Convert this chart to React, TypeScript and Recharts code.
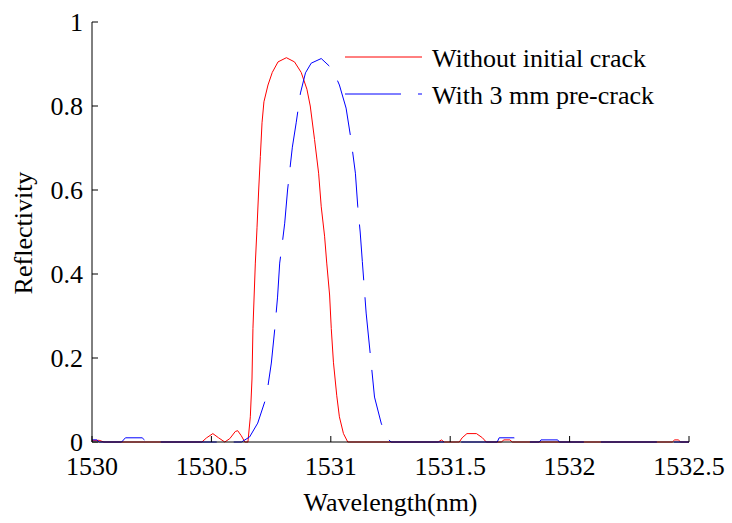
import { LineChart, Line, XAxis, YAxis, Legend } from 'recharts';

// reflection spectra
const redWavelength = [
  1530.0, 1530.03, 1530.05, 1530.46, 1530.48, 1530.506, 1530.53, 1530.556, 1530.577, 1530.6, 1530.61,
  1530.625, 1530.64, 1530.653, 1530.663, 1530.67, 1530.674, 1530.684, 1530.691, 1530.698, 1530.705,
  1530.712, 1530.72, 1530.737, 1530.755, 1530.779, 1530.814, 1530.848, 1530.876, 1530.9, 1530.914,
  1530.932, 1530.949, 1530.96, 1530.974, 1530.983, 1530.995, 1531.002, 1531.011, 1531.025, 1531.036,
  1531.053, 1531.071, 1531.45, 1531.463, 1531.475, 1531.538, 1531.55, 1531.57, 1531.61, 1531.635,
  1531.651, 1531.714, 1531.725, 1531.75, 1531.76, 1532.43, 1532.44, 1532.455, 1532.465, 1532.5,
];
const redReflectivity = [
  0.004, 0.004, 0, 0, 0.01, 0.02, 0.01, 0, 0.008, 0.025, 0.027,
  0.015, 0, 0, 0.06, 0.15, 0.27, 0.426, 0.51, 0.6, 0.68,
  0.76, 0.81, 0.85, 0.88, 0.905, 0.915, 0.905, 0.88, 0.84, 0.8,
  0.72, 0.64, 0.56, 0.49, 0.426, 0.35, 0.27, 0.19, 0.11, 0.06,
  0.02, 0, 0, 0.005, 0, 0, 0.01, 0.02, 0.02, 0.01,
  0, 0, 0.005, 0.005, 0, 0, 0.005, 0.005, 0, 0,
];

const blueWavelength = [
  1530.0, 1530.02, 1530.03, 1530.124, 1530.14, 1530.21, 1530.229, 1530.626, 1530.66, 1530.694,
  1530.73, 1530.751, 1530.765, 1530.777, 1530.786, 1530.797, 1530.807, 1530.819, 1530.839, 1530.855,
  1530.873, 1530.894, 1530.918, 1530.96, 1531.007, 1531.036, 1531.064, 1531.085, 1531.103, 1531.113,
  1531.123, 1531.132, 1531.148, 1531.169, 1531.183, 1531.211, 1531.232, 1531.252, 1531.697, 1531.705,
  1531.768, 1531.789, 1531.873, 1531.88, 1531.95, 1531.957, 1532.5,
];
const blueReflectivity = [
  0.005, 0.005, 0, 0, 0.01, 0.01, 0, 0, 0.012, 0.045,
  0.107, 0.188, 0.267, 0.345, 0.426, 0.474, 0.521, 0.6, 0.702, 0.76,
  0.831, 0.879, 0.902, 0.913, 0.888, 0.85, 0.795, 0.719, 0.64, 0.56,
  0.5, 0.43, 0.307, 0.188, 0.107, 0.045, 0.012, 0, 0, 0.01,
  0.01, 0, 0, 0.005, 0.005, 0, 0,
];

const seriesNames = ['Without initial crack', 'With 3 mm pre-crack'];
const xTicks = [1530, 1530.5, 1531, 1531.5, 1532, 1532.5];
const yTicks = [0, 0.2, 0.4, 0.6, 0.8, 1];

const redData = redWavelength.map((w, i) => ({ w, r: redReflectivity[i] }));
const blueData = blueWavelength.map((w, i) => ({ w, r: blueReflectivity[i] }));

const FONT = 'Liberation Serif';
const DASH = '56 17';

function LegendBox({ payload }: any) {
  const items = [...(payload || [])].sort(
    (a: any, b: any) => seriesNames.indexOf(a.value) - seriesNames.indexOf(b.value)
  );
  return (
    <svg width={340} height={80}>
      {items.map((p: any, i: number) => {
        const base = i === 0 ? 31 : 68;
        return (
          <g key={p.value}>
            <line
              x1={5}
              x2={82}
              y1={base - 10}
              y2={base - 10}
              stroke={p.color}
              strokeWidth={1}
              strokeDasharray={i === 1 ? DASH : undefined}
            />
            <text x={92} y={base} fontSize={26} fontFamily={FONT} fill="#000">
              {p.value}
            </text>
          </g>
        );
      })}
    </svg>
  );
}

export default function App() {
  return (
    <div style={{ position: 'absolute', left: 0, top: 0, background: '#fff' }}>
      <LineChart width={732} height={523} margin={{ top: 22, right: 43, bottom: 21, left: 32 }}>
        <XAxis
          type="number"
          dataKey="w"
          domain={[1530, 1532.5]}
          ticks={xTicks}
          allowDataOverflow
          height={60}
          tickSize={-6}
          tickMargin={21}
          axisLine={{ stroke: '#000' }}
          tickLine={{ stroke: '#000' }}
          tick={{ fill: '#000', fontSize: 26, fontFamily: FONT }}
          label={(props: any) => {
            const vb = props.viewBox;
            return (
              <text x={vb.x + vb.width / 2} y={511} textAnchor="middle" fontSize={26} fontFamily={FONT} fill="#000">
                Wavelength(nm)
              </text>
            );
          }}
        />
        <YAxis
          type="number"
          domain={[0, 1]}
          ticks={yTicks}
          width={60}
          tickSize={-6}
          tickMargin={15}
          axisLine={{ stroke: '#000' }}
          tickLine={{ stroke: '#000' }}
          tick={{ fill: '#000', fontSize: 26, fontFamily: FONT }}
          label={() => (
            <text
              x={32}
              y={233}
              transform="rotate(-90 32 233)"
              textAnchor="middle"
              fontSize={26}
              fontFamily={FONT}
              fill="#000"
            >
              Reflectivity
            </text>
          )}
        />
        <Legend
          verticalAlign="middle"
          content={LegendBox}
          wrapperStyle={{ left: 340, top: 36, width: 340, height: 80 }}
        />
        <Line
          data={redData}
          dataKey="r"
          name={seriesNames[0]}
          type="linear"
          stroke="#ff0000"
          strokeWidth={1}
          dot={false}
          isAnimationActive={false}
        />
        <Line
          data={blueData}
          dataKey="r"
          name={seriesNames[1]}
          type="linear"
          stroke="#0000ff"
          strokeWidth={1}
          strokeDasharray={DASH}
          dot={false}
          isAnimationActive={false}
        />
      </LineChart>
    </div>
  );
}
